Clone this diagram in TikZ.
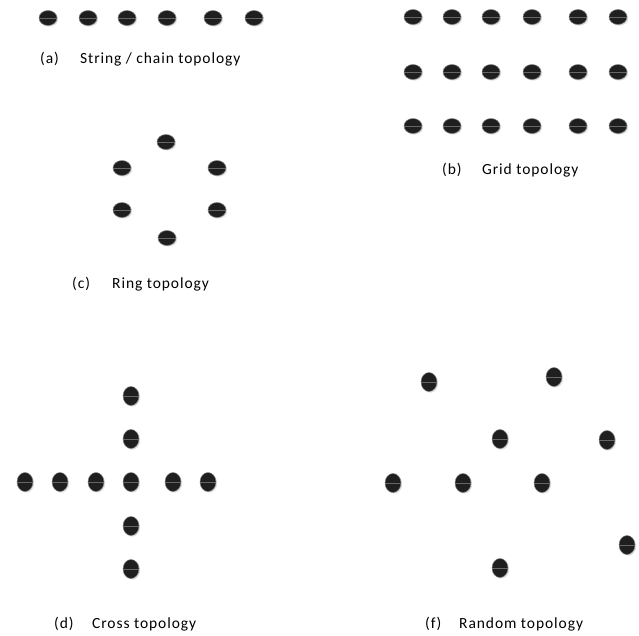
\documentclass[tikz,border=0pt]{standalone}
\usepackage{fontspec}
\setmainfont{Carlito}[LetterSpace=6]
\usepackage{tikz}
\usetikzlibrary{positioning, shapes.geometric, shadows}

\tikzset{
  mote/.style={ellipse, inner sep=0pt, minimum width=18pt, minimum height=15pt,
    fill=black!88, draw=black!50, line width=0.5pt,
    drop shadow={opacity=0.25, shadow xshift=1.2pt, shadow yshift=-1.2pt},
    path picture={\draw[black!60, line width=0.9pt]
      (path picture bounding box.west) -- (path picture bounding box.east);}},
  motev/.style={mote, minimum width=16pt, minimum height=19pt},
  tag/.style={anchor=west, inner sep=0pt, font=\fontsize{15.5}{17}\selectfont, text=black},
}

\begin{document}
\begin{tikzpicture}[x=1pt, y=-1pt]
      \useasboundingbox (0,0) rectangle (639,635);

      % (a) string / chain
      \foreach \x [count=\i] in {48, 88, 127, 167, 213, 254}
        \node[mote] (a\i) at (\x, 18) {};
      \node[tag] (atag) at (40, 59) {(a)};
      \node[tag] (atext) at (80, 59) {String / chain topology};

      % (b) grid
      \foreach \y [count=\r] in {17, 72, 126}
        \foreach \x [count=\c] in {413, 452, 491, 532, 578, 618}
          \node[mote] (b\r\c) at (\x, \y) {};
      \node[tag] (btag) at (442, 170) {(b)};
      \node[tag] (btext) at (482, 170) {Grid topology};

      % (c) ring
      \node[mote] (c1) at (166, 142) {};
      \node[mote] (c2) at (217, 168) {};
      \node[mote] (c3) at (217, 210) {};
      \node[mote] (c4) at (167, 238) {};
      \node[mote] (c5) at (122, 210) {};
      \node[mote] (c6) at (122, 168) {};
      \node[tag] (ctag) at (72, 284) {(c)};
      \node[tag] (ctext) at (112, 284) {Ring topology};

      % (d) cross
      \foreach \x [count=\i] in {25, 60, 96, 131, 173, 208}
        \node[motev] (dh\i) at (\x, 482) {};
      \foreach \y [count=\i] in {396, 439, 526, 569}
        \node[motev] (dv\i) at (131, \y) {};
      \node[tag] (dtag) at (54, 624) {(d)};
      \node[tag] (dtext) at (92, 624) {Cross topology};

      % (f) random
      \node[motev] (f1) at (429, 382) {};
      \node[motev] (f2) at (554, 377) {};
      \node[motev] (f3) at (500, 439) {};
      \node[motev] (f4) at (607, 440) {};
      \node[motev] (f5) at (393, 483) {};
      \node[motev] (f6) at (463, 483) {};
      \node[motev] (f7) at (542, 483) {};
      \node[motev] (f8) at (627, 545) {};
      \node[motev] (f9) at (500, 568) {};
      \node[tag] (ftag) at (425, 624) {(f)};
      \node[tag] (ftext) at (459, 624) {Random topology};
    \end{tikzpicture}
\end{document}
